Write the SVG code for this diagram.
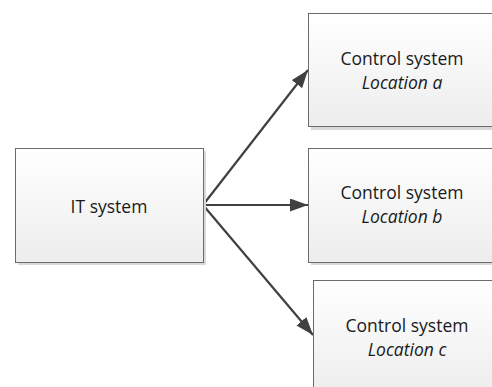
<svg xmlns="http://www.w3.org/2000/svg" width="492" height="387" viewBox="0 0 492 387">
  <defs>
    <linearGradient id="boxFill" x1="0" y1="0" x2="0" y2="1">
      <stop offset="0" stop-color="#ffffff"/>
      <stop offset="1" stop-color="#ededed"/>
    </linearGradient>
    <marker id="arrow" viewBox="0 0 18 13" refX="18" refY="6.5" markerWidth="18" markerHeight="13" markerUnits="userSpaceOnUse" orient="auto">
      <path d="M0,0 L18,6.5 L0,13 Z" fill="#404040"/>
    </marker>
  </defs>
  <style>
    .shadow { fill: #d9d9d9; }
    .box { fill: url(#boxFill); stroke: #6b6b6b; stroke-width: 1; }
    .label { font-family: "Open Sans", "Liberation Sans", sans-serif; font-size: 17.5px; fill: #1a1a1a; text-anchor: middle; }
    .loc { font-style: italic; }
    .edge { fill: none; stroke: #404040; stroke-width: 2.2; marker-end: url(#arrow); }
  </style>

  <g id="connectors">
    <line class="edge" x1="203" y1="205" x2="308" y2="70"/>
    <line class="edge" x1="203" y1="205" x2="308" y2="205"/>
    <line class="edge" x1="203" y1="205" x2="313" y2="335"/>
  </g>

  <g id="it-system">
    <rect class="shadow" x="18" y="151" width="188" height="114"/>
    <rect class="box" x="15.5" y="148.5" width="188" height="114"/>
    <text class="label" x="109" y="213">IT system</text>
  </g>

  <g id="control-a">
    <rect class="shadow" x="311" y="16" width="188" height="114"/>
    <rect class="box" x="308.5" y="13.5" width="188" height="113"/>
    <text class="label" x="402" y="65">Control system</text>
    <text class="label loc" x="402" y="89">Location a</text>
  </g>

  <g id="control-b">
    <rect class="shadow" x="311" y="151" width="188" height="114"/>
    <rect class="box" x="308.5" y="148.5" width="188" height="114"/>
    <text class="label" x="402" y="199">Control system</text>
    <text class="label loc" x="402" y="223">Location b</text>
  </g>

  <g id="control-c">
    <rect class="shadow" x="316" y="283" width="188" height="114"/>
    <rect class="box" x="313.5" y="280.5" width="188" height="114"/>
    <text class="label" x="407" y="332">Control system</text>
    <text class="label loc" x="407" y="356">Location c</text>
  </g>
</svg>
